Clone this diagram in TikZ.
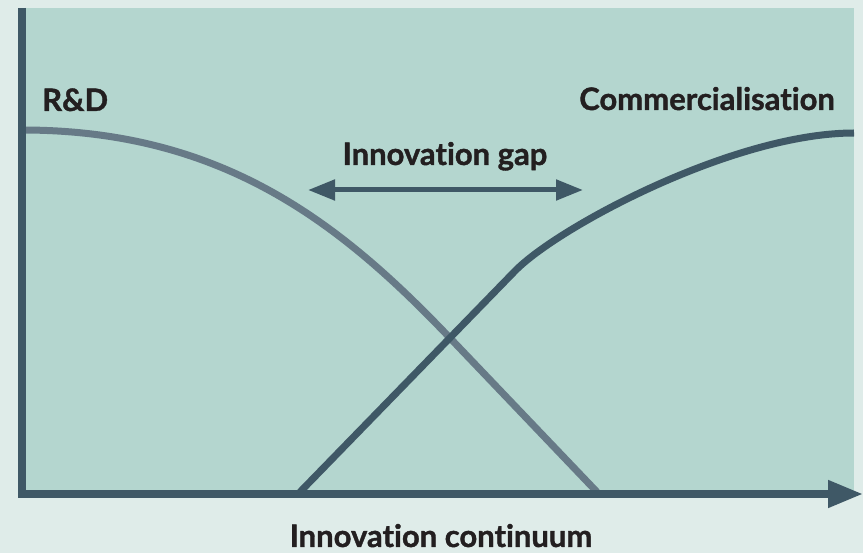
\documentclass[tikz,border=0pt]{standalone}
\usepackage{fontspec}
\setmainfont{Lato}[UprightFont=* Bold, Ligatures={NoCommon}, RawFeature={-liga;-dlig}, FakeBold=1.2]
\usetikzlibrary{arrows.meta}
\definecolor{bg}{HTML}{DFECE9}
\definecolor{plotbg}{HTML}{B4D6CF}
\definecolor{axisc}{HTML}{3F5866}
\definecolor{rdc}{HTML}{677A87}
\definecolor{txt}{HTML}{231F20}
\tikzset{
  lbl/.style={text=txt, font=\fontsize{31}{34}\selectfont, inner sep=0pt},
  curve/.style={line width=7pt},
}
\begin{document}
\begin{tikzpicture}[x=1pt,y=-1pt]
\fill[bg] (0,0) rectangle (863,553);
\useasboundingbox (0,0) rectangle (863,553);
\fill[plotbg] (22,8) rectangle (854,494);
% curves
\draw[curve, rdc] (22,130) .. controls (222,130) and (340,222.5) .. (450,338) -- (597,492);
\draw[curve, axisc] (300,492) -- (515,271) .. controls (558,227) and (734,133) .. (854,133);
% axes
\coordinate (ytop) at (22,8);
\coordinate (ybot) at (22,498);
\coordinate (xstart) at (18,494);
\coordinate (xend) at (863,494);
\draw[axisc, line width=8pt] (ytop) -- (ybot);
\draw[axisc, line width=7.5pt, -{Triangle[length=35pt,width=26pt]}] (xstart) -- (xend);
% gap arrow
\coordinate (gl) at (308,190);
\coordinate (gr) at (583,190);
\draw[axisc, line width=5pt, {Triangle[length=27pt,width=20pt]}-{Triangle[length=27pt,width=20pt]}] (gl) -- (gr);
% labels
\node[lbl, anchor=base west] (rd) at (42,111) {R\&D};
\node[lbl, anchor=base east] (com) at (835,110) {Commercialisation};
\node[lbl, anchor=base] (gap) at (445,165) {Innovation gap};
\node[lbl, anchor=base] (cont) at (441,547) {Innovation continuum};
\end{tikzpicture}
\end{document}
